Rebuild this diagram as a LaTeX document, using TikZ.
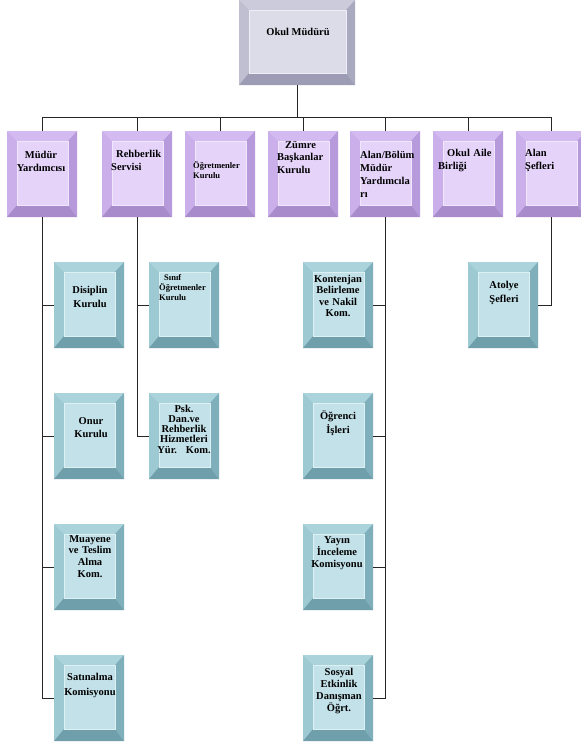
\documentclass[tikz,border=0pt]{standalone}
\usepackage{fontspec}
\setmainfont{Liberation Serif}
\usetikzlibrary{calc}

\definecolor{griyuz}{HTML}{DCDCE9}
\definecolor{griust}{HTML}{CBCBDB}
\definecolor{grisol}{HTML}{BFBFD1}
\definecolor{grisag}{HTML}{A9A9BF}
\definecolor{grialt}{HTML}{9C9CB4}
\definecolor{gricizgi}{HTML}{EEEEF6}
\definecolor{moryuz}{HTML}{E5D3FA}
\definecolor{morust}{HTML}{D3BAF1}
\definecolor{morsol}{HTML}{CAAFEB}
\definecolor{morsag}{HTML}{B79ADC}
\definecolor{moralt}{HTML}{A78BCB}
\definecolor{morcizgi}{HTML}{F1E7FD}
\definecolor{maviyuz}{HTML}{C2E1E8}
\definecolor{maviust}{HTML}{AAD3DC}
\definecolor{mavisol}{HTML}{9DC9D3}
\definecolor{mavisag}{HTML}{7EAFBA}
\definecolor{mavialt}{HTML}{6F9FAA}
\definecolor{mavicizgi}{HTML}{DDF1F5}

% kenar egimleri: ust/sol 10, sag 9, alt 12
\newcommand{\bevel}[2]{%
\fill[#2ust] (#1.north west) -- (#1.north east) -- ($(#1.north east)+(-9,10)$) -- ($(#1.north west)+(10,10)$) -- cycle;
\fill[#2sol] (#1.north west) -- ($(#1.north west)+(10,10)$) -- ($(#1.south west)+(10,-12)$) -- (#1.south west) -- cycle;
\fill[#2sag] (#1.north east) -- (#1.south east) -- ($(#1.south east)+(-9,-12)$) -- ($(#1.north east)+(-9,10)$) -- cycle;
\fill[#2alt] (#1.south west) -- (#1.south east) -- ($(#1.south east)+(-9,-12)$) -- ($(#1.south west)+(10,-12)$) -- cycle;
\draw[#2cizgi, line width=.7pt] ($(#1.north west)+(10,10)$) rectangle ($(#1.south east)+(-9,-12)$);
}

\begin{document}
\begin{tikzpicture}[x=1pt,y=-1pt,
 kutu/.style={minimum width=70pt,minimum height=86pt,inner sep=0pt,outer sep=0pt},
 mor/.style={kutu,fill=moryuz},
 mavi/.style={kutu,fill=maviyuz},
 yazi/.style={inner sep=0pt,font=\bfseries\fontsize{10.5}{13}\selectfont},
 orta/.style={yazi,anchor=base,align=center,text width=62pt},
 sol/.style={yazi,anchor=base west,align=left,text width=62pt},
 kucuk/.style={font=\bfseries\fontsize{8.5}{10}\selectfont},
 hat/.style={black!85,line width=.8pt}]
\useasboundingbox (0,0) rectangle (581,747);
\clip (0,0) rectangle (581,747);
\fill[white] (0,0) rectangle (581,747);

% kutular
\node[kutu,fill=griyuz,minimum width=116pt,minimum height=85pt] (okul) at (297,42.5) {};
\node[mor] (mdy) at (42,174) {};
\node[mor] (rhb) at (137,174) {};
\node[mor] (ogk) at (220,174) {};
\node[mor] (zbk) at (303,174) {};
\node[mor] (abm) at (385,174) {};
\node[mor] (oab) at (468,174) {};
\node[mor] (asf) at (551,174) {};

\node[mavi] (dis) at (89,305) {};
\node[mavi] (onr) at (89,436) {};
\node[mavi] (mua) at (89,567) {};
\node[mavi] (sat) at (89,698) {};
\node[mavi] (sok) at (184,305) {};
\node[mavi] (psk) at (184,436) {};
\node[mavi] (kon) at (338,305) {};
\node[mavi] (ogr) at (338,436) {};
\node[mavi] (yay) at (338,567) {};
\node[mavi] (sos) at (338,698) {};
\node[mavi] (atl) at (503,305) {};

\bevel{okul}{gri}
\foreach \n in {mdy,rhb,ogk,zbk,abm,oab,asf} {\bevel{\n}{mor}}
\foreach \n in {dis,onr,mua,sat,sok,psk,kon,ogr,yay,sos,atl} {\bevel{\n}{mavi}}

% yazilar
\node[yazi,anchor=base] (okul-y) at (298,35) {Okul Müdürü};
\node[orta] (mdy-y) at (41,158) {Müdür\\Yardımcısı};
\node[sol] (rhb-y) at (111,157) {\hspace*{5pt}Rehberlik\\Servisi};
\node[sol,kucuk] (ogk-y) at (193,168) {Öğretmenler\\Kurulu};
\node[sol,font=\bfseries\fontsize{10.5}{12.5}\selectfont] (zbk-y) at (277,148) {\hspace*{8pt}Zümre\\Başkanlar\\Kurulu};
\node[sol] (abm-y) at (360,158) {Alan/Bölüm\\Müdür\\Yardımcıla\\rı};
\node[sol] (oab-y) at (438,156) {\hspace*{9pt}Okul Aile\\Birliği};
\node[sol] (asf-y) at (525,156) {Alan\\Şefleri};

\node[orta,font=\bfseries\fontsize{10.5}{14}\selectfont] (dis-y) at (90,293) {Disiplin\\Kurulu};
\node[sol,kucuk] (sok-y) at (159,280) {\hspace*{5pt}Sınıf\\Öğretmenler\\Kurulu};
\node[orta,font=\bfseries\fontsize{10.5}{11.5}\selectfont] (kon-y) at (338,282) {Kontenjan\\Belirleme\\ve Nakil\\Kom.};
\node[orta,font=\bfseries\fontsize{10.5}{14}\selectfont] (atl-y) at (504,288) {Atolye\\Şefleri};

\node[orta] (onr-y) at (91,424) {Onur\\Kurulu};
\node[orta,font=\bfseries\fontsize{10.5}{10.3}\selectfont] (psk-y) at (184,412) {Psk.\\Dan.ve\\Rehberlik\\Hizmetleri\\Yür.~ Kom.};
\node[orta,font=\bfseries\fontsize{10.5}{14}\selectfont] (ogr-y) at (338,419) {Öğrenci\\İşleri};

\node[orta,font=\bfseries\fontsize{10.5}{11.7}\selectfont] (mua-y) at (90,542) {Muayene\\ve Teslim\\Alma\\Kom.};
\node[orta,font=\bfseries\fontsize{10.5}{12}\selectfont] (yay-y) at (337,543) {Yayın\\İnceleme\\Komisyonu};

\node[orta,font=\bfseries\fontsize{10.5}{15}\selectfont] (sat-y) at (90,680) {Satınalma\\Komisyonu};
\node[orta,font=\bfseries\fontsize{10.5}{12.3}\selectfont] (sos-y) at (339,675) {Sosyal\\Etkinlik\\Danışman\\Öğrt.};

% baglantilar
\coordinate (bus) at (297,117);
\draw[hat] (okul.south) -- (bus);
\foreach \n in {mdy,rhb,ogk,zbk,abm,oab,asf}
 \draw[hat] (\n.north) |- (bus);
\foreach \n in {dis,onr,mua,sat}
 \draw[hat] (mdy.south) |- (\n.west);
\foreach \n in {sok,psk}
 \draw[hat] (rhb.south) |- (\n.west);
\foreach \n in {kon,ogr,yay,sos}
 \draw[hat] (abm.south) |- (\n.east);
\draw[hat] (asf.south) |- (atl.east);
\end{tikzpicture}
\end{document}
